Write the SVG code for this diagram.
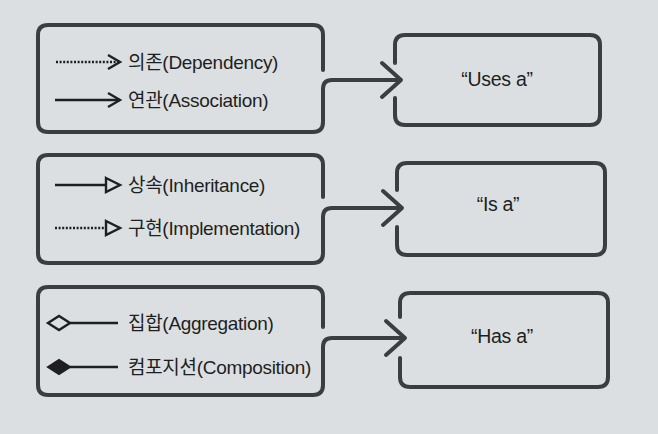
<svg xmlns="http://www.w3.org/2000/svg" width="658" height="434" viewBox="0 0 658 434">
<defs>
<style>
.box{fill:none;stroke:#3b3d40;stroke-width:4;stroke-linecap:round;stroke-linejoin:round}
.con{fill:none;stroke:#3b3d40;stroke-width:4;stroke-linecap:round;stroke-linejoin:round}
.ln{fill:none;stroke:#1e1f21;stroke-width:2.4}
.dot{fill:none;stroke:#1e1f21;stroke-width:2.6;stroke-dasharray:2 1.6}
.ah{fill:none;stroke:#1e1f21;stroke-width:2.4;stroke-linejoin:miter}
.t{font-family:"Liberation Sans","Noto Sans CJK KR",sans-serif;font-size:19px;fill:#1e1f21;letter-spacing:-0.3px}
.c{font-family:"Liberation Sans","Noto Sans CJK KR",sans-serif;font-size:19.5px;fill:#1e1f21;text-anchor:middle;letter-spacing:-0.3px}
</style>
</defs>
<rect width="658" height="434" fill="#dcdfe2"/>

<g id="legend-uses">
<path class="box" d="M323,70 V35 Q323,25 313,25 H48 Q38,25 38,35 V122 Q38,132 48,132 H313 Q323,132 323,122 V92"/>
<path class="dot" d="M56,62 H120"/>
<path class="ah" d="M108,55 L120,62 L108,69"/>
<text class="t" x="128" y="69">의존(Dependency)</text>
<path class="ln" d="M55,100 H120"/>
<path class="ah" d="M108,93 L120,100 L108,107"/>
<text class="t" x="128" y="107">연관(Association)</text>
</g>

<g id="legend-is">
<path class="box" d="M323,197 V165 Q323,155 313,155 H48 Q38,155 38,165 V253 Q38,263 48,263 H313 Q323,263 323,253 V220"/>
<path class="ln" d="M55,185 H106"/>
<path class="ah" d="M106,178 L120,185 L106,192 Z"/>
<text class="t" x="128" y="192">상속(Inheritance)</text>
<path class="dot" d="M55,228 H106"/>
<path class="ah" d="M106,221 L120,228 L106,235 Z"/>
<text class="t" x="128" y="235">구현(Implementation)</text>
</g>

<g id="legend-has">
<path class="box" d="M323,327 V297 Q323,287 313,287 H48 Q38,287 38,297 V385 Q38,395 48,395 H313 Q323,395 323,385 V352"/>
<path class="ah" d="M48,323 L59,316 L70,323 L59,330 Z"/>
<path class="ln" d="M70,323 H118"/>
<path d="M48,367 L59,360 L70,367 L59,374 Z" fill="#1e1f21" stroke="#1e1f21" stroke-width="2"/>
<path class="ln" d="M70,367 H118"/>
<text class="t" x="128" y="330">집합(Aggregation)</text>
<text class="t" x="128" y="374">컴포지션(Composition)</text>
</g>

<g id="uses-a">
<path class="box" d="M395,63 V45 Q395,35 405,35 H590 Q600,35 600,45 V115 Q600,125 590,125 H405 Q395,125 395,115 V98"/>
<text class="c" x="497" y="86">“Uses a”</text>
</g>

<g id="is-a">
<path class="box" d="M397,190 V173 Q397,163 407,163 H595 Q605,163 605,173 V245 Q605,255 595,255 H407 Q397,255 397,245 V227"/>
<text class="c" x="498" y="211">“Is a”</text>
</g>

<g id="has-a">
<path class="box" d="M400,317 V303 Q400,293 410,293 H598 Q608,293 608,303 V377 Q608,387 598,387 H410 Q400,387 400,377 V358"/>
<text class="c" x="502" y="343">“Has a”</text>
</g>

<g id="connectors">
<path class="con" d="M323,94 V89 Q323,80 332,80 H400"/>
<path class="con" d="M382,63 L401,80 L382,97"/>
<path class="con" d="M323,222 V217 Q323,208 332,208 H401"/>
<path class="con" d="M383,191 L402,208 L383,225"/>
<path class="con" d="M323,354 V347 Q323,338 332,338 H404"/>
<path class="con" d="M386,321 L405,338 L386,355"/>
</g>
</svg>
